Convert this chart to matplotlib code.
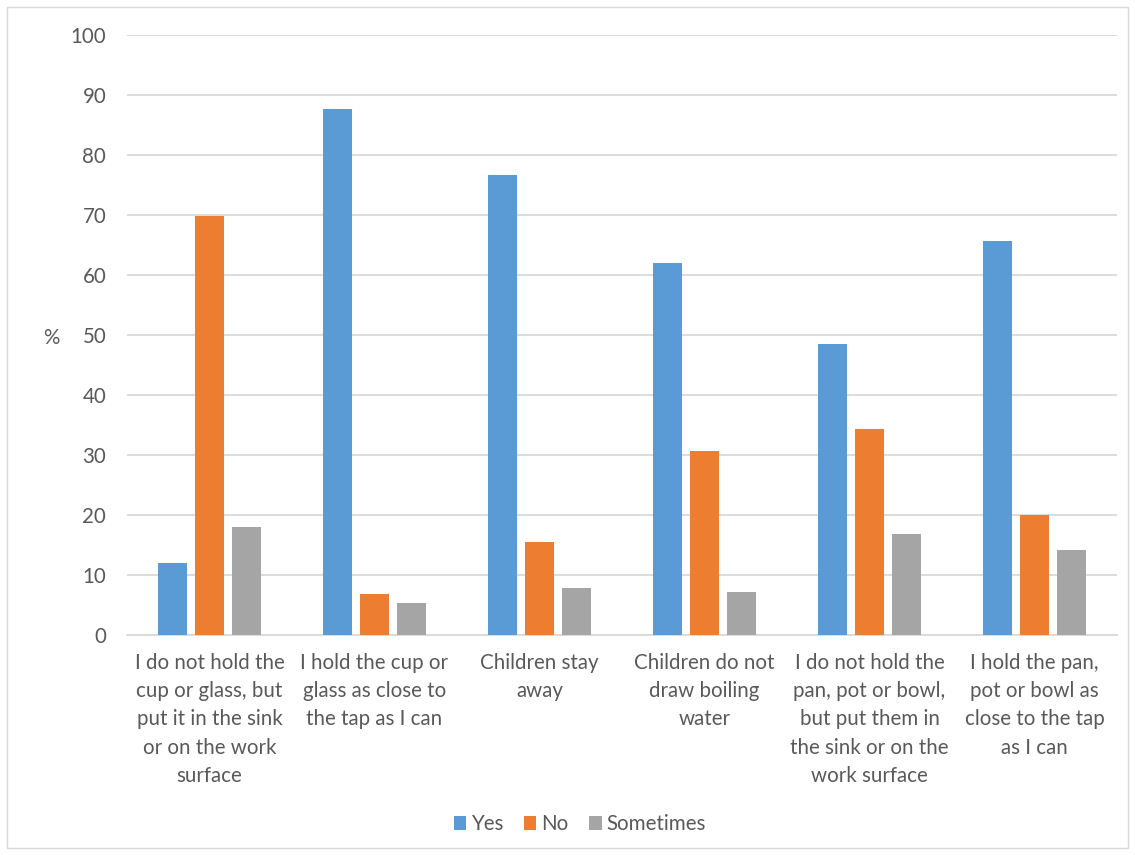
import matplotlib.pyplot as plt
import numpy as np
from matplotlib.patches import Rectangle

plt.rcParams['font.family'] = ['Lato', 'DejaVu Sans']

categories = ['I do not hold the\ncup or glass, but\nput it in the sink\nor on the work\nsurface',
              'I hold the cup or\nglass as close to\nthe tap as I can',
              'Children stay\naway',
              'Children do not\ndraw boiling\nwater',
              'I do not hold the\npan, pot or bowl,\nbut put them in\nthe sink or on the\nwork surface',
              'I hold the pan,\npot or bowl as\nclose to the tap\nas I can']
yes = [12.0, 87.7, 76.7, 62.1, 48.6, 65.7]
no = [69.9, 6.8, 15.5, 30.7, 34.4, 20.1]
sometimes = [18.0, 5.4, 7.8, 7.2, 16.9, 14.2]

text_col = '#595959'
grid_col = '#d9d9d9'
fs = 14.8

fig = plt.figure(figsize=(11.35, 8.55), dpi=100)
ax = fig.add_axes([0.1119, 0.2573, 0.8722, 0.7012])

x = np.arange(len(categories))
w = 0.176
step = 0.222
b1 = ax.bar(x - step, yes, width=w, color='#5B9BD5', label='Yes', zorder=3)
b2 = ax.bar(x, no, width=w, color='#ED7D31', label='No', zorder=3)
b3 = ax.bar(x + step, sometimes, width=w, color='#A5A5A5', label='Sometimes', zorder=3)

ax.set_xlim(-0.5, len(categories) - 0.5)
ax.set_ylim(0, 100)
ax.set_yticks(np.arange(0, 101, 10))
ax.yaxis.grid(True, color=grid_col, linewidth=1.3, zorder=0)
ax.set_axisbelow(True)
for s in ['top', 'right', 'left']:
    ax.spines[s].set_visible(False)
ax.spines['bottom'].set_color(grid_col)
ax.spines['bottom'].set_linewidth(1.3)
ax.tick_params(axis='both', length=0, colors=text_col, labelsize=fs)
ax.tick_params(axis='y', pad=15)
ax.tick_params(axis='x', pad=13)
ax.set_xticks(x)
ax.set_xticklabels(categories, linespacing=1.51, va='top')

# axis title sits level, halfway up the value axis
fig.text(0.045, 0.605, '%', color=text_col, fontsize=fs, ha='center', va='center')

fig.legend(handles=[b1, b2, b3], loc='center', bbox_to_anchor=(0.511, 0.036), ncol=3,
           frameon=False, fontsize=fs, handlelength=0.6, handleheight=0.6,
           handletextpad=0.25, columnspacing=1.0, labelcolor=text_col)

# thin frame around the whole chart
fig.patches.append(Rectangle((0.0062, 0.0082), 0.9877, 0.9836, transform=fig.transFigure,
                             fill=False, edgecolor=grid_col, linewidth=1.0))

fig.savefig('out.png', dpi=100)
